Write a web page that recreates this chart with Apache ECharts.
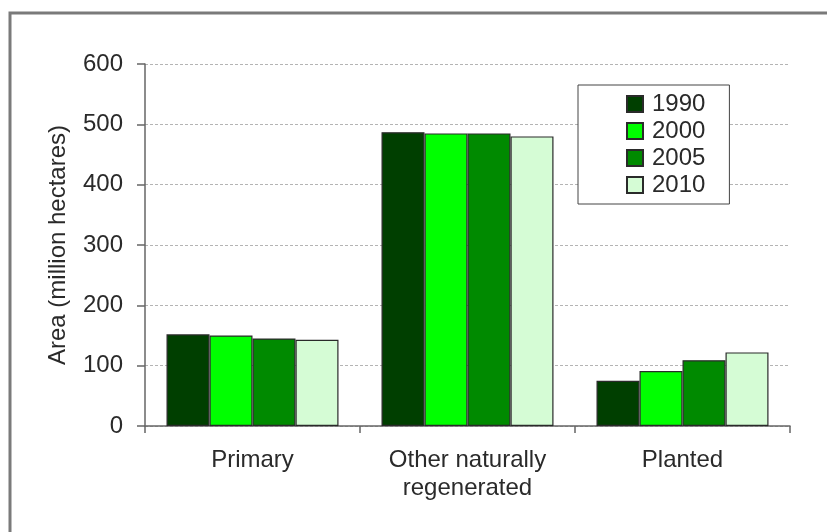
<!DOCTYPE html>
<html>
<head>
<meta charset="utf-8">
<script src="https://cdn.jsdelivr.net/npm/echarts@6/dist/echarts.min.js"></script>
<style>
  html, body { margin: 0; padding: 0; background: #fff; }
  #chart { width: 827px; height: 532px; }
</style>
</head>
<body>
<div id="chart"></div>
<script>
// Forest area by characteristic (million hectares)
const categories = ['Primary', 'Other naturally\nregenerated', 'Planted'];
const years = ['1990', '2000', '2005', '2010'];
const values1990 = [152, 487, 75];
const values2000 = [150, 485, 91];
const values2005 = [145, 485, 109];
const values2010 = [143, 480, 122];
const yTicks = [0, 100, 200, 300, 400, 500, 600];

const seriesValues = [values1990, values2000, values2005, values2010];
const colors = ['#003f00', '#00ff00', '#008a00', '#d5fcd5'];
const font = 'Liberation Sans, Arial, sans-serif';
const textColor = '#2a2a2a';
const fontSize = 24;

const chart = echarts.init(document.getElementById('chart'), null, { renderer: 'canvas' });

chart.setOption({
  animation: false,
  backgroundColor: '#ffffff',
  textStyle: { fontFamily: font },
  graphic: [{
    type: 'rect',
    shape: { x: 10, y: 13, width: 900, height: 700 },
    style: { fill: 'none', stroke: '#7a7a7a', lineWidth: 3 },
    silent: true
  }],
  grid: { left: 145, right: 37, top: 64, bottom: 106 },
  legend: {
    orient: 'vertical',
    left: 578,
    top: 85,
    padding: [7, 24, 7, 48],
    itemWidth: 16,
    itemHeight: 16,
    itemGap: 3,
    icon: 'rect',
    backgroundColor: '#ffffff',
    borderColor: '#444444',
    borderWidth: 1,
    borderRadius: 0,
    textStyle: {
      fontFamily: font,
      fontSize: fontSize,
      lineHeight: 22,
      color: textColor,
      padding: [0, 0, 0, 4]
    },
    data: years
  },
  xAxis: {
    type: 'category',
    data: categories,
    axisLine: { show: true, lineStyle: { color: '#666666', width: 1.5 } },
    axisTick: { show: true, alignWithLabel: false, length: 7, lineStyle: { color: '#666666', width: 1.5 } },
    axisLabel: {
      fontFamily: font,
      fontSize: fontSize,
      lineHeight: 28,
      color: textColor,
      margin: 20
    },
    splitLine: { show: false }
  },
  yAxis: {
    type: 'value',
    min: yTicks[0],
    max: yTicks[yTicks.length - 1],
    interval: 100,
    name: 'Area (million hectares)',
    nameLocation: 'middle',
    nameGap: 75,
    nameTextStyle: { fontFamily: font, fontSize: fontSize, color: textColor },
    axisLine: { show: true, lineStyle: { color: '#666666', width: 1.5 } },
    axisTick: { show: true, length: 8, lineStyle: { color: '#666666', width: 1.5 } },
    axisLabel: {
      fontFamily: font,
      fontSize: fontSize,
      color: textColor,
      margin: 22,
      formatter: v => (yTicks.includes(v) ? String(v) : '')
    },
    splitLine: {
      show: true,
      lineStyle: { color: '#b4b4b4', width: 1, type: [3, 2] }
    }
  },
  series: years.map((y, i) => ({
    name: y,
    type: 'bar',
    data: seriesValues[i],
    barGap: '0%',
    barCategoryGap: '20%',
    itemStyle: {
      color: colors[i],
      borderColor: '#2a2a2a',
      borderWidth: 1.2
    }
  }))
});
</script>
</body>
</html>
